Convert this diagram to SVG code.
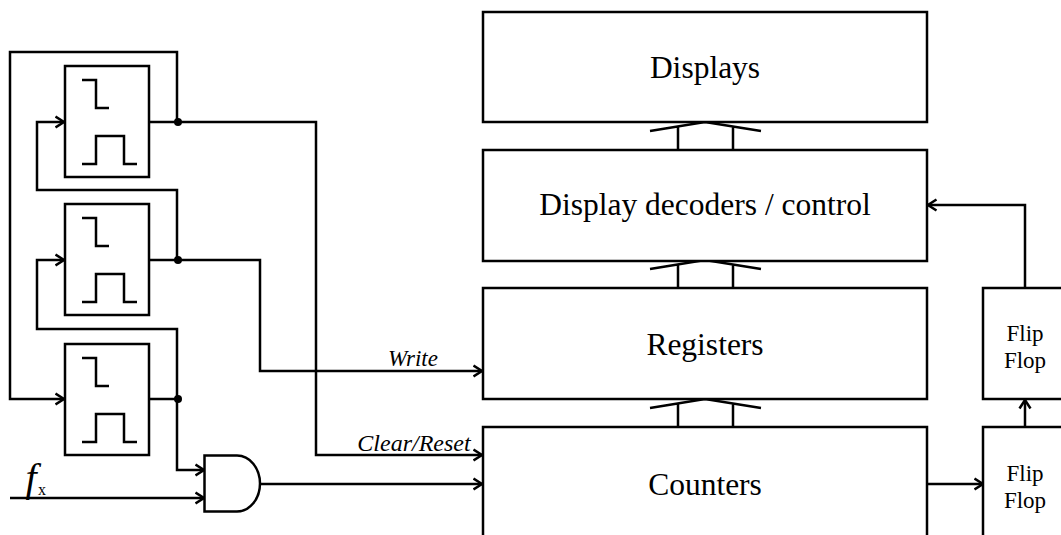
<svg xmlns="http://www.w3.org/2000/svg" width="1061" height="535" viewBox="0 0 1061 535">
<style>
.s{fill:none;stroke:#000;stroke-width:2.500}
.box{fill:#fff;stroke:#000;stroke-width:2.500}
.t{font-family:"Liberation Serif",serif;fill:#000;text-anchor:middle}
.big{font-size:31.500px}
.ff{font-size:23px}
.i{font-style:italic;font-size:23px}
</style>
<defs>
<marker id="a" markerUnits="userSpaceOnUse" markerWidth="12" markerHeight="14" refX="9.500" refY="7" orient="auto"><path d="M1 1.500L9.500 7L1 12.500" fill="none" stroke="#000" stroke-width="2.500"/></marker>
<g id="sym"><path class="s" d="M82 14H96V42H109M82 98H96V70H124V98H137"/></g>
<g id="bus"><path class="s" d="M650 131L705 122L761 131M678 150V127M733 150V127"/></g>
</defs>
<g id="connectors">
<path class="s" d="M149 122H316V455H482" marker-end="url(#a)"/>
<path class="s" d="M149 260H260V371H482" marker-end="url(#a)"/>
<path class="s" d="M177 122V52H10V399H64" marker-end="url(#a)"/>
<path class="s" d="M177 260V190H37V122H64" marker-end="url(#a)"/>
<path class="s" d="M177 399V329H37V260H64" marker-end="url(#a)"/>
<path class="s" d="M149 399H177V470H204" marker-end="url(#a)"/>
<path class="s" d="M10 498H204" marker-end="url(#a)"/>
<path class="s" d="M261 484H482" marker-end="url(#a)"/>
<path class="s" d="M927 484H983" marker-end="url(#a)"/>
<path class="s" d="M1025 427V400" marker-end="url(#a)"/>
<path class="s" d="M1025 288V205H928" marker-end="url(#a)"/>
<use href="#bus"/>
<use href="#bus" y="138"/>
<use href="#bus" y="277"/>
<circle cx="178" cy="122" r="4" fill="#000"/>
<circle cx="178" cy="260" r="4" fill="#000"/>
<circle cx="178" cy="399" r="4" fill="#000"/>
</g>
<g id="pulse1"><rect class="box" x="65" y="66" width="84" height="111"/><use href="#sym" y="66"/></g>
<g id="pulse2"><rect class="box" x="65" y="204" width="84" height="111"/><use href="#sym" y="204"/></g>
<g id="pulse3"><rect class="box" x="65" y="344" width="84" height="111"/><use href="#sym" y="344"/></g>
<g id="and"><path class="box" d="M204.500 455.500H237A23 28 0 0 1 237 511.500H204.500Z"/></g>
<g id="displays"><rect class="box" x="483" y="12" width="444" height="110"/><text class="t big" x="705" y="78">Displays</text></g>
<g id="decoders"><rect class="box" x="483" y="150" width="444" height="111"/><text class="t big" x="705" y="215">Display decoders / control</text></g>
<g id="registers"><rect class="box" x="483" y="288" width="444" height="111"/><text class="t big" x="705" y="355">Registers</text></g>
<g id="counters"><rect class="box" x="483" y="427" width="444" height="120"/><text class="t big" x="705" y="495">Counters</text></g>
<g id="ff1"><rect class="box" x="983" y="288" width="90" height="111"/><text class="t ff" x="1025" y="341">Flip</text><text class="t ff" x="1025" y="368">Flop</text></g>
<g id="ff2"><rect class="box" x="983" y="427" width="90" height="120"/><text class="t ff" x="1025" y="481">Flip</text><text class="t ff" x="1025" y="508">Flop</text></g>
<g id="labels">
<text class="t i" x="413" y="366">Write</text>
<text class="t i" x="414" y="451" style="font-size:24px">Clear/Reset</text>
<text class="t" x="31" y="491" font-size="40" font-style="italic">f</text>
<text class="t" x="42" y="495" font-size="16">x</text>
</g>
</svg>
